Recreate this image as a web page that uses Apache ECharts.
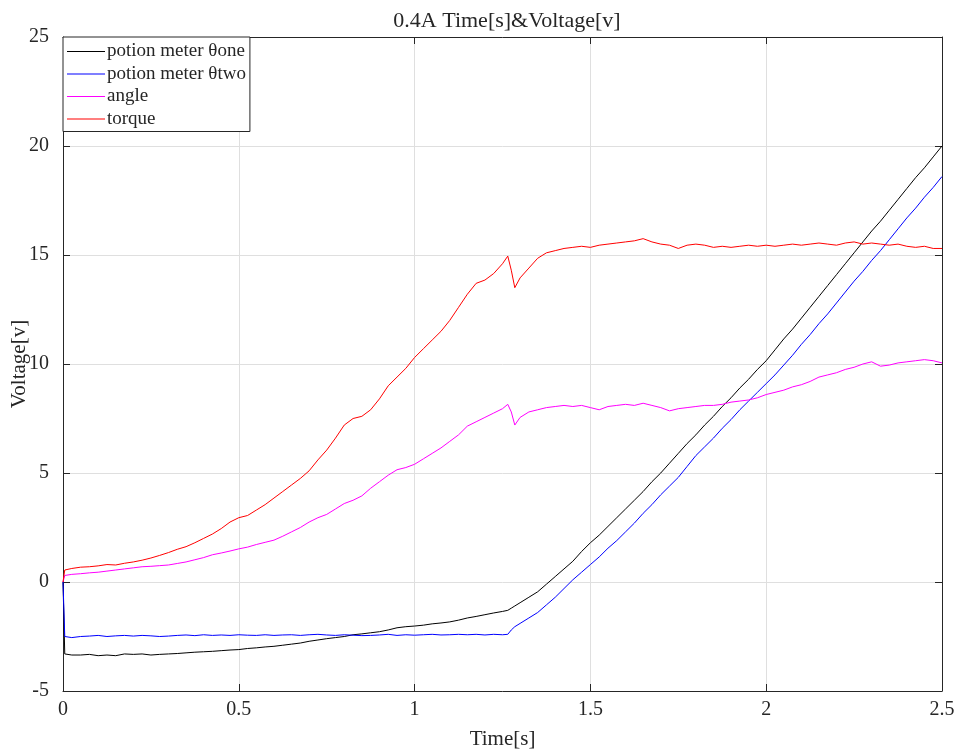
<!DOCTYPE html>
<html>
<head>
<meta charset="utf-8">
<script src="https://cdn.jsdelivr.net/npm/echarts@6/dist/echarts.min.js"></script>
<style>
  html, body { margin: 0; padding: 0; background: #fff; }
  #chart { width: 961px; height: 756px; }
</style>
</head>
<body>
<div id="chart"></div>
<script>
// time samples [s]
const time = [
  0, 0.005, 0.025, 0.05, 0.075, 0.1, 0.125, 0.15, 0.175, 0.2, 0.225, 0.25, 0.275, 0.3,
  0.325, 0.35, 0.375, 0.4, 0.425, 0.45, 0.475, 0.5, 0.525, 0.55, 0.575, 0.6, 0.625, 0.65,
  0.675, 0.7, 0.725, 0.75, 0.775, 0.8, 0.825, 0.85, 0.875, 0.9, 0.925, 0.95, 0.975, 1.0,
  1.025, 1.05, 1.075, 1.1, 1.125, 1.15, 1.175, 1.2, 1.225, 1.25, 1.265, 1.275, 1.285, 1.3,
  1.325, 1.35, 1.375, 1.4, 1.425, 1.45, 1.475, 1.5, 1.525, 1.55, 1.575, 1.6, 1.625, 1.65,
  1.675, 1.7, 1.725, 1.75, 1.775, 1.8, 1.825, 1.85, 1.875, 1.9, 1.925, 1.95, 1.975, 2.0,
  2.025, 2.05, 2.075, 2.1, 2.125, 2.15, 2.175, 2.2, 2.225, 2.25, 2.275, 2.3, 2.325, 2.35,
  2.375, 2.4, 2.425, 2.45, 2.475, 2.5
];

// potion meter θone (black)
const thetaOne = [
  0, -3.3, -3.35, -3.35, -3.32, -3.38, -3.35, -3.38, -3.3, -3.32, -3.3, -3.35, -3.32, -3.3,
  -3.28, -3.25, -3.22, -3.2, -3.18, -3.15, -3.12, -3.1, -3.05, -3.02, -2.98, -2.95, -2.9, -2.85,
  -2.8, -2.72, -2.66, -2.6, -2.55, -2.5, -2.42, -2.38, -2.33, -2.28, -2.2, -2.1, -2.05, -2.02,
  -1.98, -1.92, -1.88, -1.83, -1.75, -1.65, -1.58, -1.5, -1.42, -1.35, -1.3, -1.2, -1.1, -0.95,
  -0.7, -0.45, -0.1, 0.25, 0.6, 0.95, 1.4, 1.8, 2.15, 2.55, 2.95, 3.35, 3.75, 4.15,
  4.6, 5.0, 5.45, 5.9, 6.35, 6.75, 7.2, 7.6, 8.05, 8.45, 8.9, 9.3, 9.75, 10.15,
  10.65, 11.15, 11.6, 12.1, 12.6, 13.1, 13.6, 14.1, 14.6, 15.1, 15.6, 16.1, 16.55, 17.05,
  17.55, 18.05, 18.55, 19.0, 19.5, 20.0
];

// potion meter θtwo (blue)
const thetaTwo = [
  0, -2.5, -2.55, -2.5, -2.48, -2.45, -2.5, -2.47, -2.45, -2.48, -2.45, -2.47, -2.5, -2.48,
  -2.45, -2.43, -2.46, -2.42, -2.45, -2.43, -2.45, -2.42, -2.44, -2.45, -2.42, -2.45, -2.43, -2.42,
  -2.45, -2.42, -2.4, -2.43, -2.45, -2.42, -2.44, -2.46, -2.45, -2.43, -2.4, -2.45, -2.42, -2.44,
  -2.42, -2.4, -2.43, -2.42, -2.4, -2.42, -2.4, -2.43, -2.4, -2.42, -2.4, -2.2, -2.05, -1.9,
  -1.65, -1.4, -1.05, -0.7, -0.3, 0.1, 0.45, 0.8, 1.15, 1.55, 1.9, 2.3, 2.7, 3.15,
  3.55, 4.0, 4.4, 4.8, 5.3, 5.8, 6.2, 6.6, 7.05, 7.45, 7.9, 8.3, 8.7, 9.1,
  9.5, 9.95, 10.4, 10.9, 11.35, 11.85, 12.3, 12.8, 13.3, 13.8, 14.25, 14.75, 15.2, 15.7,
  16.2, 16.7, 17.15, 17.65, 18.1, 18.6
];

// angle (magenta)
const angle = [
  0, 0.3, 0.35, 0.38, 0.42, 0.45, 0.5, 0.55, 0.6, 0.65, 0.7, 0.72, 0.75, 0.78,
  0.85, 0.92, 1.02, 1.12, 1.25, 1.33, 1.42, 1.52, 1.6, 1.72, 1.82, 1.92, 2.1, 2.3,
  2.5, 2.75, 2.95, 3.1, 3.35, 3.6, 3.75, 3.95, 4.3, 4.6, 4.9, 5.15, 5.25, 5.4,
  5.65, 5.9, 6.15, 6.45, 6.75, 7.15, 7.35, 7.55, 7.75, 7.95, 8.15, 7.8, 7.2, 7.55,
  7.8, 7.9, 8.0, 8.05, 8.1, 8.05, 8.1, 8.0, 7.9, 8.05, 8.1, 8.15, 8.1, 8.2,
  8.1, 8.0, 7.85, 7.95, 8.0, 8.05, 8.1, 8.1, 8.15, 8.25, 8.3, 8.35, 8.45, 8.6,
  8.7, 8.8, 8.95, 9.05, 9.2, 9.4, 9.5, 9.6, 9.75, 9.85, 10.0, 10.1, 9.9, 9.95,
  10.05, 10.1, 10.15, 10.2, 10.15, 10.05
];

// torque (red)
const torque = [
  0, 0.55, 0.62, 0.68, 0.7, 0.74, 0.8, 0.78, 0.86, 0.92, 1.0, 1.1, 1.22, 1.35,
  1.5, 1.62, 1.8, 2.0, 2.2, 2.45, 2.75, 2.95, 3.05, 3.3, 3.55, 3.85, 4.15, 4.45,
  4.75, 5.1, 5.6, 6.05, 6.6, 7.2, 7.5, 7.6, 7.9, 8.4, 9.0, 9.4, 9.8, 10.3,
  10.7, 11.1, 11.5, 12.0, 12.6, 13.2, 13.7, 13.85, 14.15, 14.6, 14.95, 14.3, 13.5, 13.95,
  14.4, 14.85, 15.1, 15.2, 15.3, 15.35, 15.4, 15.35, 15.45, 15.5, 15.55, 15.6, 15.65, 15.75,
  15.6, 15.5, 15.45, 15.3, 15.45, 15.5, 15.45, 15.35, 15.4, 15.35, 15.4, 15.45, 15.4, 15.45,
  15.4, 15.45, 15.5, 15.45, 15.5, 15.55, 15.5, 15.45, 15.55, 15.6, 15.5, 15.55, 15.5, 15.45,
  15.5, 15.4, 15.35, 15.4, 15.3, 15.3
];

const xTicks = [0, 0.5, 1, 1.5, 2, 2.5];
const seriesNames = ['potion meter θone', 'potion meter θtwo', 'angle', 'torque'];
const seriesColors = ['#000000', '#0000ff', '#ff00ff', '#ff0000'];
const seriesValues = [thetaOne, thetaTwo, angle, torque];

const FONT = '"Liberation Serif", "Times New Roman", serif';
const AXIS_COLOR = '#262626';

function pairs(values) {
  return time.map((t, i) => [t, values[i]]);
}

const chart = echarts.init(document.getElementById('chart'));

const boxAxis = {
  axisLine: { show: true, onZero: false, lineStyle: { color: AXIS_COLOR, width: 1 } },
  axisTick: { show: true, inside: true, length: 7, lineStyle: { color: AXIS_COLOR } },
  axisLabel: { show: false },
  splitLine: { show: false }
};

chart.setOption({
  animation: false,
  backgroundColor: '#fff',
  title: {
    text: '0.4A Time[s]&Voltage[v]',
    left: 502,
    textAlign: 'center',
    top: 5,
    textStyle: { fontFamily: FONT, fontSize: 22, fontWeight: 'normal', color: AXIS_COLOR }
  },
  grid: { left: 63, right: 19, top: 37, bottom: 65, containLabel: false, outerBoundsMode: 'none' },
  legend: {
    orient: 'vertical',
    left: 63,
    top: 37,
    data: seriesNames,
    icon: 'rect',
    itemWidth: 38,
    itemHeight: 1.2,
    itemGap: 3.5,
    padding: [5, 4, 3, 4],
    backgroundColor: '#fff',
    borderColor: AXIS_COLOR,
    borderWidth: 1,
    borderRadius: 0,
    textStyle: { fontFamily: FONT, fontSize: 19, lineHeight: 19, color: AXIS_COLOR, padding: [0, 0, 0, -3] }
  },
  xAxis: [
    {
      type: 'value',
      min: 0,
      max: 2.5,
      interval: 0.5,
      name: 'Time[s]',
      nameLocation: 'middle',
      nameGap: 38,
      nameMoveOverlap: false,
      nameTextStyle: { fontFamily: FONT, fontSize: 21, color: AXIS_COLOR },
      axisLine: { show: true, onZero: false, lineStyle: { color: AXIS_COLOR, width: 1 } },
      axisTick: { show: true, inside: true, length: 7, lineStyle: { color: AXIS_COLOR } },
      axisLabel: {
        fontFamily: FONT, fontSize: 20, color: AXIS_COLOR, margin: 9,
        formatter: v => (xTicks.includes(v) ? String(v) : '')
      },
      splitLine: { show: true, lineStyle: { color: '#dfdfdf', width: 1 } }
    },
    Object.assign({ type: 'value', position: 'top', min: 0, max: 2.5, interval: 0.5 }, boxAxis)
  ],
  yAxis: [
    {
      type: 'value',
      min: -5,
      max: 25,
      interval: 5,
      name: 'Voltage[v]',
      nameLocation: 'middle',
      nameGap: 33,
      nameMoveOverlap: false,
      nameTextStyle: { fontFamily: FONT, fontSize: 21, color: AXIS_COLOR },
      axisLine: { show: true, onZero: false, lineStyle: { color: AXIS_COLOR, width: 1 } },
      axisTick: { show: true, inside: true, length: 7, lineStyle: { color: AXIS_COLOR } },
      axisLabel: { fontFamily: FONT, fontSize: 20, color: AXIS_COLOR, margin: 14 },
      splitLine: { show: true, lineStyle: { color: '#dfdfdf', width: 1 } }
    },
    Object.assign({ type: 'value', position: 'right', min: -5, max: 25, interval: 5 }, boxAxis)
  ],
  series: seriesNames.map((name, i) => ({
    name: name,
    type: 'line',
    data: pairs(seriesValues[i]),
    showSymbol: false,
    symbol: 'none',
    smooth: false,
    lineStyle: { color: seriesColors[i], width: 1 },
    itemStyle: { color: seriesColors[i] },
    z: 2 + i
  }))
});
</script>
</body>
</html>
